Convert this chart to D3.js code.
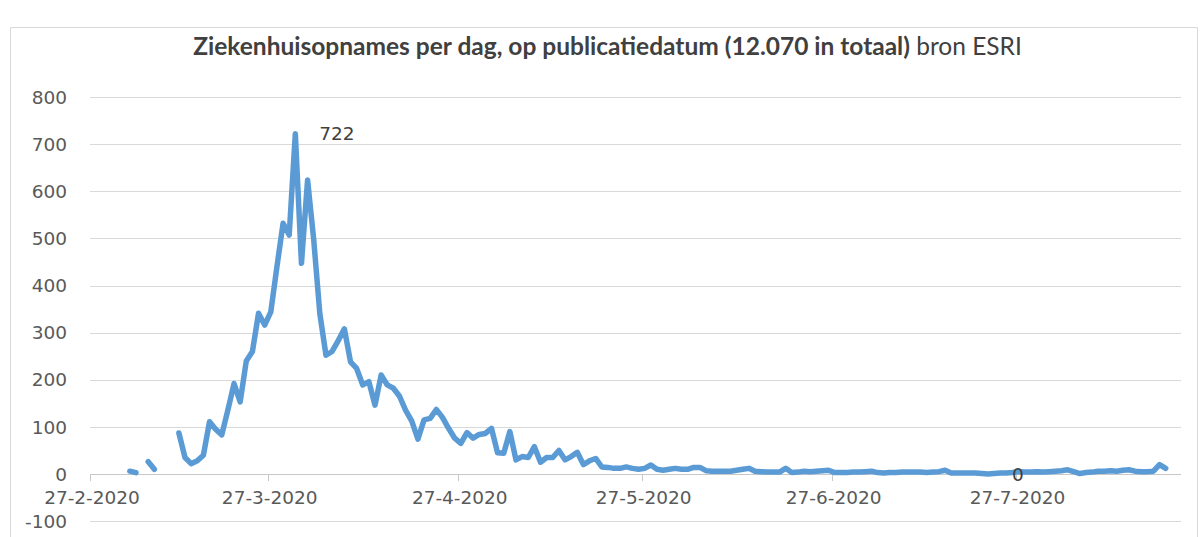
<!DOCTYPE html>
<html>
<head>
<meta charset="utf-8">
<script src="https://cdn.jsdelivr.net/npm/d3@7"></script>
<style>
  html, body { margin: 0; padding: 0; background: #fff; }
  svg { display: block; }
</style>
</head>
<body>
<svg id="chart" width="1203" height="537"></svg>
<script>
// ---- data ----
const titleBold = "Ziekenhuisopnames per dag, op publicatiedatum (12.070 in totaal)";
const titleNormal = " bron ESRI";
const startDate = "2020-02-27";
const endDate = "2020-08-23";
// daily hospital admissions starting 27-2-2020 (null = no value)
const values = [
  null, null, null, null, null, null, 6, 3, null, 26,
  10, null, null, null, 87, 35, 22, 28, 40, 111,
  95, 83, 136, 192, 153, 240, 260, 341, 316, 344,
  440, 532, 507, 722, 447, 624, 497, 340, 252, 260,
  283, 308, 238, 224, 189, 196, 146, 210, 189, 182,
  165, 135, 112, 74, 115, 118, 137, 120, 97, 76,
  65, 88, 76, 84, 86, 97, 45, 44, 90, 30,
  37, 35, 58, 25, 35, 35, 50, 30, 37, 46,
  20, 28, 33, 15, 14, 12, 12, 15, 12, 10,
  12, 19, 10, 8, 10, 12, 10, 10, 14, 14,
  7, 6, 6, 6, 6, 8, 10, 12, 6, 5,
  4, 4, 4, 12, 3, 4, 6, 5, 6, 7,
  8, 3, 3, 3, 4, 4, 5, 6, 3, 2,
  3, 3, 4, 4, 4, 4, 3, 4, 5, 8,
  2, 2, 2, 2, 2, 1, 0, 1, 2, 2,
  3, 5, 4, 4, 5, 4, 5, 6, 7, 9,
  5, 1, 3, 4, 6, 6, 7, 6, 8, 9,
  6, 5, 5, 6, 20, 12
];
const labelDays = [33, 146]; // points carrying a data label
const xTickDates = ["2020-02-27", "2020-03-27", "2020-04-27", "2020-05-27", "2020-06-27", "2020-07-27"];
const xTickLabels = ["27-2-2020", "27-3-2020", "27-4-2020", "27-5-2020", "27-6-2020", "27-7-2020"];
const yTicks = [-100, 0, 100, 200, 300, 400, 500, 600, 700, 800];

// ---- layout ----
const svg = d3.select("#chart");
const plotLeft = 90, plotRight = 1181, plotTop = 97, zeroY = 474;
const tickFont = "DejaVu Sans, sans-serif";
const textColor = "#595959";

const parse = d3.utcParse("%Y-%m-%d");
const t0 = parse(startDate);
const x = d3.scaleUtc().domain([t0, parse(endDate)]).range([plotLeft, plotRight]);
const y = d3.scaleLinear().domain([0, 800]).range([zeroY, plotTop]);

const pts = values.map((v, i) => ({ date: d3.utcHour.offset(d3.utcDay.offset(t0, i), 12), v }));

// chart border
svg.append("path")
  .attr("d", `M10.5,537 V27.5 H1197.5 V537`)
  .attr("fill", "none").attr("stroke", "#d9d9d9").attr("stroke-width", 1);

// title
const title = svg.append("text")
  .attr("x", (185 + 1030) / 2).attr("y", 55)
  .attr("text-anchor", "middle")
  .attr("font-family", "Lato, sans-serif")
  .attr("font-size", 24.5)
  .attr("fill", "#404040");
title.append("tspan").attr("font-weight", "bold").text(titleBold);
title.append("tspan").text(titleNormal);

// gridlines
svg.append("g").selectAll("line").data(yTicks).join("line")
  .attr("x1", plotLeft).attr("x2", plotRight)
  .attr("y1", d => Math.round(y(d)) + 0.5).attr("y2", d => Math.round(y(d)) + 0.5)
  .attr("stroke", d => d === 0 ? "#c8c8c8" : "#d9d9d9").attr("stroke-width", 1);

// y labels
svg.append("g").selectAll("text").data(yTicks).join("text")
  .attr("x", 67).attr("y", d => y(d))
  .attr("dy", "0.36em")
  .attr("text-anchor", "end")
  .attr("font-family", tickFont).attr("font-size", 18.5)
  .attr("fill", textColor)
  .text(d => d);

// x axis tick marks + labels
const xt = xTickDates.map((d, i) => ({ date: parse(d), label: xTickLabels[i] }));
svg.append("g").selectAll("line").data(xt).join("line")
  .attr("x1", d => Math.round(x(d.date)) + 0.5).attr("x2", d => Math.round(x(d.date)) + 0.5)
  .attr("y1", Math.round(y(0))).attr("y2", Math.round(y(0)) + 7)
  .attr("stroke", "#c8c8c8");
svg.append("g").selectAll("text").data(xt).join("text")
  .attr("x", d => x(d.date) + 2).attr("y", 504)
  .attr("text-anchor", "middle")
  .attr("font-family", tickFont).attr("font-size", 18.5)
  .attr("fill", textColor)
  .text(d => d.label);

// line
const line = d3.line()
  .defined(d => d.v !== null)
  .x(d => x(d.date)).y(d => y(d.v));
svg.append("path")
  .datum(pts)
  .attr("d", line)
  .attr("fill", "none")
  .attr("stroke", "#5b9bd5")
  .attr("stroke-width", 5.5)
  .attr("stroke-linejoin", "round")
  .attr("stroke-linecap", "round");

// data labels
svg.append("g").selectAll("text").data(labelDays.map(i => pts[i])).join("text")
  .attr("x", d => x(d.date) + 24).attr("y", d => y(d.v))
  .attr("dy", "0.36em")
  .attr("font-family", tickFont).attr("font-size", 18.5)
  .attr("fill", "#404040")
  .text(d => d.v);
</script>
</body>
</html>
